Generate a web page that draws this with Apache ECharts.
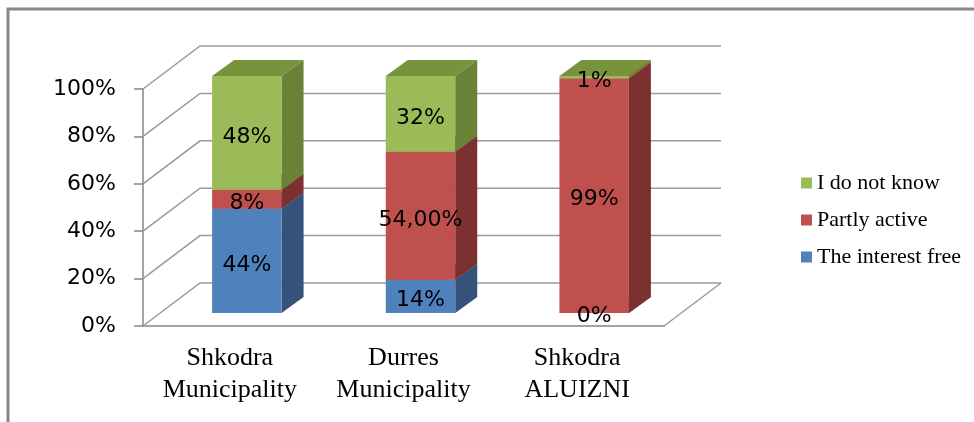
<!DOCTYPE html>
<html>
<head>
<meta charset="utf-8">
<script src="https://cdn.jsdelivr.net/npm/echarts@6/dist/echarts.min.js"></script>
<style>
  html, body { margin: 0; padding: 0; background: #fff; }
  #main { width: 974px; height: 422px; }
</style>
</head>
<body>
<div id="main"></div>
<script>
var categories = ['Shkodra\nMunicipality', 'Durres\nMunicipality', 'Shkodra\nALUIZNI'];
var interestFree = [44, 14, 0];
var partlyActive = [8, 54, 99];
var doNotKnow = [48, 32, 1];
var partlyDecimals = [0, 2, 0];
var yTicks = [0, 20, 40, 60, 80, 100];

var chartDom = document.getElementById('main');
var myChart = echarts.init(chartDom);
var option;

// depth of the 3d box and of the bars
var WALL_DX = 57, WALL_DY = -43;
var BAR_OX = 17, BAR_OY = -13;
var BAR_DX = 22, BAR_DY = -16;

var layers = [
    { name: 'The interest free', values: interestFree, front: '#4F81BD', side: '#34527A', top: '#3F6A9E' },
    { name: 'Partly active', values: partlyActive, front: '#C0504D', side: '#7C3030', top: '#A0403D' },
    { name: 'I do not know', values: doNotKnow, front: '#9BBB59', side: '#6A8236', top: '#77933C' }
];

function fmt(v, dec) {
    return v.toFixed(dec || 0).replace('.', ',') + '%';
}

// [category, start, end, value, layer]
function layerData(k) {
    return layers[k].values.map(function (v, i) {
        var start = 0;
        for (var j = 0; j < k; j++) start += layers[j].values[i];
        return [i, start, start + v, v, k];
    });
}

function barBox(api) {
    var i = api.value(0);
    var p0 = api.coord([i, api.value(1)]);
    var p1 = api.coord([i, api.value(2)]);
    var w = api.size([1, 0])[0] * 0.4;
    return { x0: p0[0] - w / 2 + BAR_OX, yb: p0[1] + BAR_OY, yt: p1[1] + BAR_OY, w: w };
}

var barSeries = layers.map(function (layer, k) {
    return {
        name: layer.name,
        type: 'custom',
        itemStyle: { color: layer.front },
        data: layerData(k),
        z: 3 + k,
        renderItem: function (params, api) {
            var b = barBox(api);
            var x0 = b.x0, yb = b.yb, yt = b.yt, w = b.w;
            return {
                type: 'group',
                children: [{
                    type: 'polygon',
                    shape: { points: [[x0 + w, yb], [x0 + w + BAR_DX, yb + BAR_DY], [x0 + w + BAR_DX, yt + BAR_DY], [x0 + w, yt]] },
                    style: { fill: layer.side }
                }, {
                    type: 'polygon',
                    shape: { points: [[x0, yt], [x0 + BAR_DX, yt + BAR_DY], [x0 + w + BAR_DX, yt + BAR_DY], [x0 + w, yt]] },
                    style: { fill: layer.top }
                }, {
                    type: 'rect',
                    shape: { x: x0, y: yt, width: w, height: yb - yt },
                    style: { fill: layer.front }
                }]
            };
        }
    };
});

var labelSeries = {
    type: 'custom',
    silent: true,
    z: 10,
    data: layerData(0).concat(layerData(1), layerData(2)),
    renderItem: function (params, api) {
        var b = barBox(api);
        var i = api.value(0), k = api.value(4);
        var dec = k === 1 ? partlyDecimals[i] : 0;
        var ty = (b.yt + b.yb) / 2 + 4;
        if (api.value(3) === 0) ty = b.yb + 3;
        return {
            type: 'text',
            style: {
                x: b.x0 + b.w / 2,
                y: ty,
                text: fmt(api.value(3), dec),
                align: 'center',
                verticalAlign: 'middle',
                fill: '#000',
                font: '22px "DejaVu Sans"'
            }
        };
    }
};

var wallSeries = {
    type: 'custom',
    silent: true,
    z: 1,
    data: yTicks.map(function (t) { return [0, t]; }),
    renderItem: function (params, api) {
        var cs = params.coordSys;
        var left = cs.x, right = cs.x + cs.width;
        var y = api.coord([0, api.value(1)])[1];
        var children = [{
            type: 'polyline',
            shape: { points: [[left, y], [left + WALL_DX, y + WALL_DY], [right + WALL_DX, y + WALL_DY]] },
            style: { stroke: '#9a9a9a', lineWidth: 1.5, fill: null }
        }];
        if (api.value(1) === 0) {
            children.push({
                type: 'line',
                shape: { x1: right, y1: y, x2: right + WALL_DX, y2: y + WALL_DY },
                style: { stroke: '#9a9a9a', lineWidth: 1.5 }
            });
        }
        return { type: 'group', children: children };
    }
};

option = {
    backgroundColor: '#fff',
    animation: false,
    graphic: [{
        type: 'polyline',
        shape: { points: [[8, 422], [8, 9], [974, 9]] },
        style: { stroke: '#888', lineWidth: 3, fill: null }
    }],
    legend: {
        orient: 'vertical',
        left: 796,
        top: 167,
        itemWidth: 11,
        itemHeight: 11,
        itemGap: 15,
        icon: 'rect',
        data: ['I do not know', 'Partly active', 'The interest free'],
        textStyle: { fontFamily: 'Liberation Serif', fontSize: 22, color: '#000' }
    },
    grid: { left: 143, top: 89, width: 521, height: 237 },
    xAxis: {
        type: 'category',
        data: categories,
        axisLine: { lineStyle: { color: '#868686', width: 1.5 } },
        axisTick: { length: 7, lineStyle: { color: '#868686', width: 1.5 } },
        axisLabel: {
            interval: 0,
            hideOverlap: false,
            margin: 16,
            fontFamily: 'Liberation Serif',
            fontSize: 26,
            lineHeight: 32,
            color: '#000'
        }
    },
    yAxis: {
        type: 'value',
        min: 0,
        max: 100,
        interval: 20,
        axisLine: { show: true, lineStyle: { color: '#868686', width: 1.5 } },
        axisTick: { show: true, length: 9, lineStyle: { color: '#868686', width: 1.5 } },
        splitLine: { show: false },
        axisLabel: {
            formatter: '{value}%',
            margin: 27,
            fontFamily: 'DejaVu Sans',
            fontSize: 22,
            color: '#000'
        }
    },
    series: [wallSeries].concat(barSeries, [labelSeries])
};

option && myChart.setOption(option);
</script>
</body>
</html>
